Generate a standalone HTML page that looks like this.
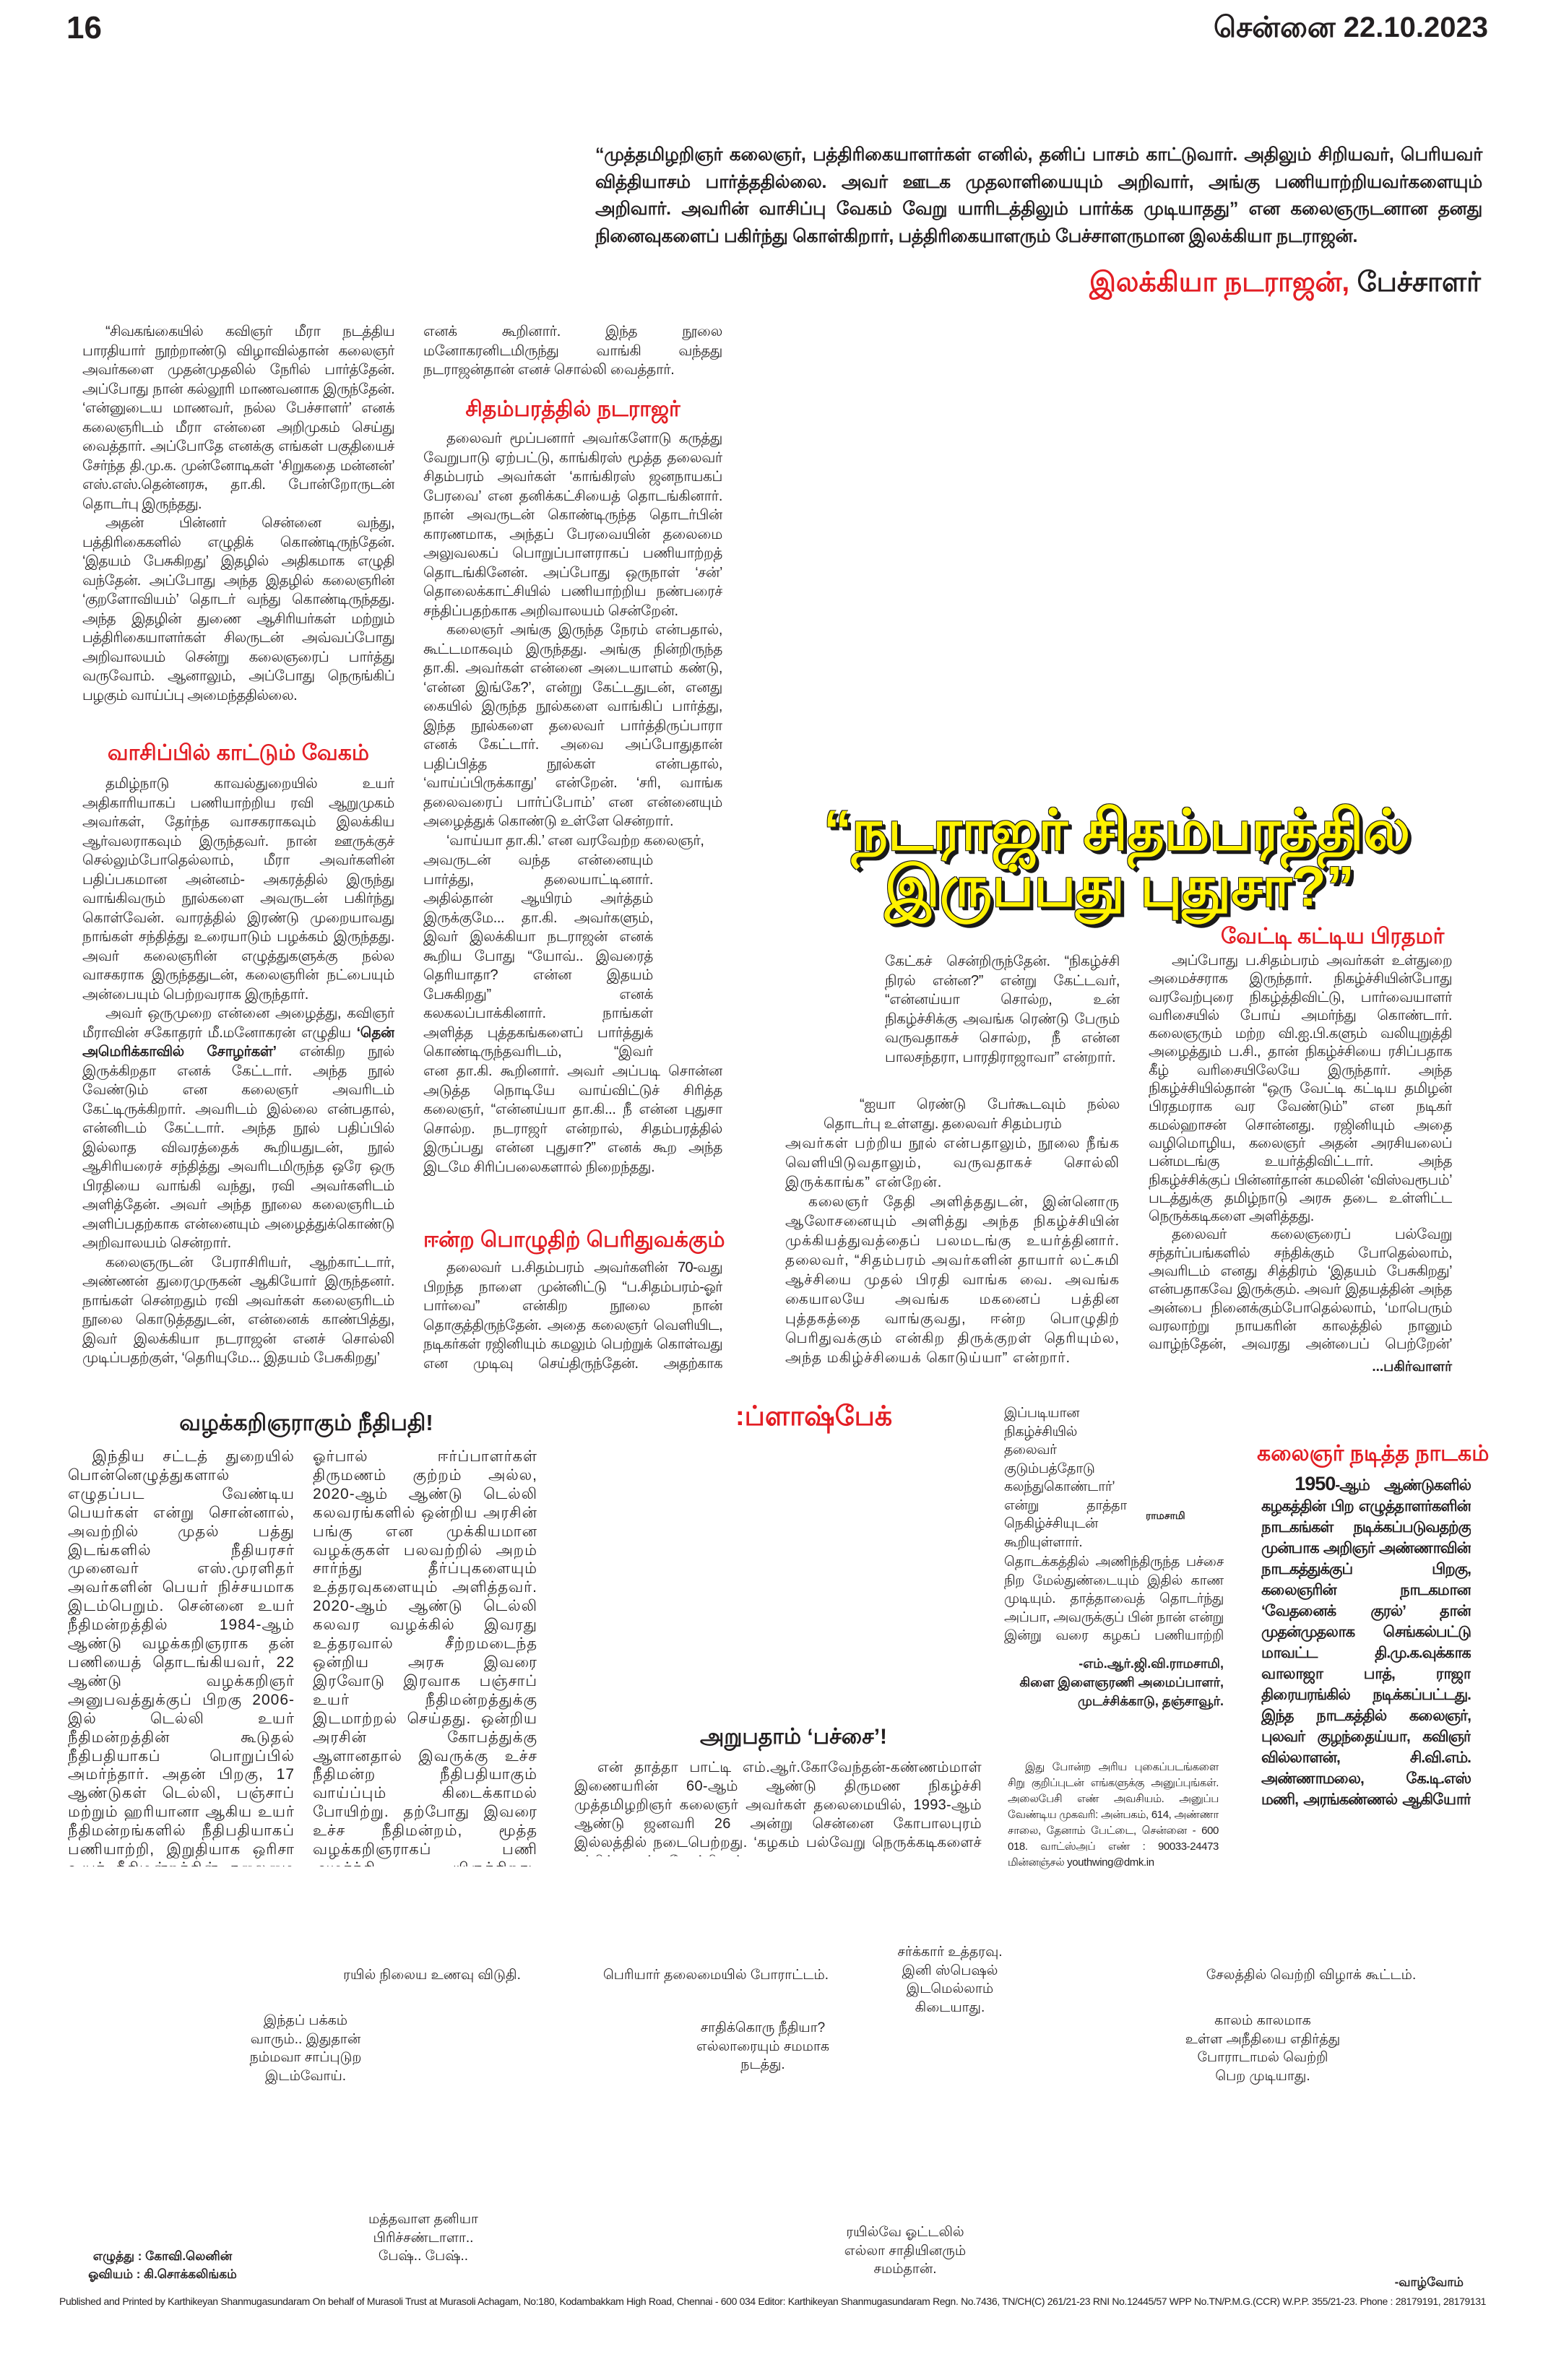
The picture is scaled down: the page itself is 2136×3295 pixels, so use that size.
<!DOCTYPE html>
<html><head><meta charset="utf-8"><style>
*{margin:0;padding:0;box-sizing:border-box}
html,body{width:2136px;height:3295px;background:#fff;overflow:hidden}
body{position:relative;font-family:"Liberation Sans","Noto Sans CJK SC",sans-serif;color:#231f20}
.a{position:absolute}
.t{position:absolute;font-size:20px;line-height:26.5px;text-align:justify;overflow:hidden;letter-spacing:-0.4px}
.t p{text-indent:1.6em}
.t p.n{text-indent:0}
.h{position:absolute;font-weight:bold;color:#e31e24;font-size:30px;white-space:nowrap;text-align:center}
.k{color:#231f20}
.c{position:absolute;font-size:19px;line-height:25.5px;text-align:center;white-space:nowrap}
.hl{position:absolute;font-weight:900;color:#fff200;font-size:78px;line-height:78px;white-space:nowrap;
text-shadow:4px 4px 0 #1a1a1a,5px 5px 0 #1a1a1a,-1px -1px 0 #1a1a1a,1px -1px 0 #1a1a1a,-1px 1px 0 #1a1a1a}
</style></head><body>

<div class="a" style="left:92px;top:14px;font-size:44px;font-weight:bold">16</div>
<div class="a" style="right:76px;top:16px;font-size:40px;font-weight:bold">சென்னை 22.10.2023</div>

<div class="a" style="left:824px;top:196px;width:1228px;font-size:25px;line-height:37.5px;font-weight:bold;text-align:justify;letter-spacing:-0.3px">“முத்தமிழறிஞர் கலைஞர், பத்திரிகையாளர்கள் எனில், தனிப் பாசம் காட்டுவார். அதிலும் சிறியவர், பெரியவர் வித்தியாசம் பார்த்ததில்லை. அவர் ஊடக முதலாளியையும் அறிவார், அங்கு பணியாற்றியவர்களையும் அறிவார். அவரின் வாசிப்பு வேகம் வேறு யாரிடத்திலும் பார்க்க முடியாதது” என கலைஞருடனான தனது நினைவுகளைப் பகிர்ந்து கொள்கிறார், பத்திரிகையாளரும் பேச்சாளருமான இலக்கியா நடராஜன்.</div>
<div class="a" style="right:86px;top:370px;font-size:38px;font-weight:bold;color:#e31e24;white-space:nowrap">இலக்கியா நடராஜன், <span class="k">பேச்சாளர்</span></div>

<!-- column 1 -->
<div class="t" style="left:114px;top:446px;width:432px;height:570px;letter-spacing:-0.7px">
<p>“சிவகங்கையில் கவிஞர் மீரா நடத்திய பாரதியார் நூற்றாண்டு விழாவில்தான் கலைஞர் அவர்களை முதன்முதலில் நேரில் பார்த்தேன். அப்போது நான் கல்லூரி மாணவனாக இருந்தேன். ‘என்னுடைய மாணவர், நல்ல பேச்சாளர்’ எனக் கலைஞரிடம் மீரா என்னை அறிமுகம் செய்து வைத்தார். அப்போதே எனக்கு எங்கள் பகுதியைச் சேர்ந்த தி.மு.க. முன்னோடிகள் ‘சிறுகதை மன்னன்’ எஸ்.எஸ்.தென்னரசு, தா.கி. போன்றோருடன் தொடர்பு இருந்தது.</p>
<p>அதன் பின்னர் சென்னை வந்து, பத்திரிகைகளில் எழுதிக் கொண்டிருந்தேன். ‘இதயம் பேசுகிறது’ இதழில் அதிகமாக எழுதி வந்தேன். அப்போது அந்த இதழில் கலைஞரின் ‘குறளோவியம்’ தொடர் வந்து கொண்டிருந்தது. அந்த இதழின் துணை ஆசிரியர்கள் மற்றும் பத்திரிகையாளர்கள் சிலருடன் அவ்வப்போது அறிவாலயம் சென்று கலைஞரைப் பார்த்து வருவோம். ஆனாலும், அப்போது நெருங்கிப் பழகும் வாய்ப்பு அமைந்ததில்லை.</p>
</div>
<div class="h" style="left:114px;width:432px;top:1026px">வாசிப்பில் காட்டும் வேகம்</div>
<div class="t" style="left:114px;top:1072px;width:432px;height:912px">
<p>தமிழ்நாடு காவல்துறையில் உயர் அதிகாரியாகப் பணியாற்றிய ரவி ஆறுமுகம் அவர்கள், தேர்ந்த வாசகராகவும் இலக்கிய ஆர்வலராகவும் இருந்தவர். நான் ஊருக்குச் செல்லும்போதெல்லாம், மீரா அவர்களின் பதிப்பகமான அன்னம்- அகரத்தில் இருந்து வாங்கிவரும் நூல்களை அவருடன் பகிர்ந்து கொள்வேன். வாரத்தில் இரண்டு முறையாவது நாங்கள் சந்தித்து உரையாடும் பழக்கம் இருந்தது. அவர் கலைஞரின் எழுத்துகளுக்கு நல்ல வாசகராக இருந்ததுடன், கலைஞரின் நட்பையும் அன்பையும் பெற்றவராக இருந்தார்.</p>
<p>அவர் ஒருமுறை என்னை அழைத்து, கவிஞர் மீராவின் சகோதரர் மீ.மனோகரன் எழுதிய <b>‘தென் அமெரிக்காவில் சோழர்கள்’</b> என்கிற நூல் இருக்கிறதா எனக் கேட்டார். அந்த நூல் வேண்டும் என கலைஞர் அவரிடம் கேட்டிருக்கிறார். அவரிடம் இல்லை என்பதால், என்னிடம் கேட்டார். அந்த நூல் பதிப்பில் இல்லாத விவரத்தைக் கூறியதுடன், நூல் ஆசிரியரைச் சந்தித்து அவரிடமிருந்த ஒரே ஒரு பிரதியை வாங்கி வந்து, ரவி அவர்களிடம் அளித்தேன். அவர் அந்த நூலை கலைஞரிடம் அளிப்பதற்காக என்னையும் அழைத்துக்கொண்டு அறிவாலயம் சென்றார்.</p>
<p>கலைஞருடன் பேராசிரியர், ஆற்காட்டார், அண்ணன் துரைமுருகன் ஆகியோர் இருந்தனர். நாங்கள் சென்றதும் ரவி அவர்கள் கலைஞரிடம் நூலை கொடுத்ததுடன், என்னைக் காண்பித்து, இவர் இலக்கியா நடராஜன் எனச் சொல்லி முடிப்பதற்குள், ‘தெரியுமே... இதயம் பேசுகிறது’</p>
</div>

<!-- column 2 -->
<div class="t" style="left:586px;top:446px;width:414px;height:82px">
<p class="n">எனக் கூறினார். இந்த நூலை மனோகரனிடமிருந்து வாங்கி வந்தது நடராஜன்தான் எனச் சொல்லி வைத்தார்.</p></div>
<div class="h" style="left:586px;width:414px;top:550px">சிதம்பரத்தில் நடராஜர்</div>
<div class="t" style="left:586px;top:594px;width:414px;height:584px">
<p>தலைவர் மூப்பனார் அவர்களோடு கருத்து வேறுபாடு ஏற்பட்டு, காங்கிரஸ் மூத்த தலைவர் சிதம்பரம் அவர்கள் ‘காங்கிரஸ் ஜனநாயகப் பேரவை’ என தனிக்கட்சியைத் தொடங்கினார். நான் அவருடன் கொண்டிருந்த தொடர்பின் காரணமாக, அந்தப் பேரவையின் தலைமை அலுவலகப் பொறுப்பாளராகப் பணியாற்றத் தொடங்கினேன். அப்போது ஒருநாள் ‘சன்’ தொலைக்காட்சியில் பணியாற்றிய நண்பரைச் சந்திப்பதற்காக அறிவாலயம் சென்றேன்.</p>
<p>கலைஞர் அங்கு இருந்த நேரம் என்பதால், கூட்டமாகவும் இருந்தது. அங்கு நின்றிருந்த தா.கி. அவர்கள் என்னை அடையாளம் கண்டு, ‘என்ன இங்கே?’, என்று கேட்டதுடன், எனது கையில் இருந்த நூல்களை வாங்கிப் பார்த்து, இந்த நூல்களை தலைவர் பார்த்திருப்பாரா எனக் கேட்டார். அவை அப்போதுதான் பதிப்பித்த நூல்கள் என்பதால், ‘வாய்ப்பிருக்காது’ என்றேன். ‘சரி, வாங்க தலைவரைப் பார்ப்போம்’ என என்னையும் அழைத்துக் கொண்டு உள்ளே சென்றார்.</p>
<p>‘வாய்யா தா.கி.’ என வரவேற்ற கலைஞர்,</p></div>
<div class="t" style="left:586px;top:1178px;width:318px;height:292px">
<p class="n">அவருடன் வந்த என்னையும் பார்த்து, தலையாட்டினார். அதில்தான் ஆயிரம் அர்த்தம் இருக்குமே... தா.கி. அவர்களும், இவர் இலக்கியா நடராஜன் எனக் கூறிய போது “யோவ்.. இவரைத் தெரியாதா? என்ன இதயம் பேசுகிறது” எனக் கலகலப்பாக்கினார். நாங்கள் அளித்த புத்தகங்களைப் பார்த்துக் கொண்டிருந்தவரிடம், “இவர் இப்போ பத்திரிகைப் பணிகளில் இல்லை, ப.சிதம்பரம்கிட்ட சேர்ந்துட்டாரு”</p></div>
<div class="t" style="left:586px;top:1470px;width:414px;height:215px">
<p class="n">என தா.கி. கூறினார். அவர் அப்படி சொன்ன அடுத்த நொடியே வாய்விட்டுச் சிரித்த கலைஞர், “என்னய்யா தா.கி... நீ என்ன புதுசா சொல்ற. நடராஜர் என்றால், சிதம்பரத்தில் இருப்பது என்ன புதுசா?” எனக் கூற அந்த இடமே சிரிப்பலைகளால் நிறைந்தது.</p></div>
<div class="h" style="left:586px;width:414px;top:1700px">ஈன்ற பொழுதிற் பெரிதுவக்கும்</div>
<div class="t" style="left:586px;top:1742px;width:414px;height:162px;letter-spacing:-0.7px">
<p>தலைவர் ப.சிதம்பரம் அவர்களின் 70-வது பிறந்த நாளை முன்னிட்டு “ப.சிதம்பரம்-ஓர் பார்வை” என்கிற நூலை நான் தொகுத்திருந்தேன். அதை கலைஞர் வெளியிட, நடிகர்கள் ரஜினியும் கமலும் பெற்றுக் கொள்வது என முடிவு செய்திருந்தேன். அதற்காக கலைஞரிடம் தேதி</p></div>

<!-- headline -->
<div class="hl" style="left:1140px;top:1110px">“நடராஜர் சிதம்பரத்தில்</div>
<div class="hl" style="left:1225px;top:1188px">இருப்பது புதுசா?”</div>
<div class="h" style="left:1690px;width:265px;top:1280px">வேட்டி கட்டிய பிரதமர்</div>

<!-- column 3 -->
<div class="t" style="left:1225px;top:1318px;width:325px;height:192px">
<p class="n">கேட்கச் சென்றிருந்தேன். “நிகழ்ச்சி நிரல் என்ன?” என்று கேட்டவர், “என்னய்யா சொல்ற, உன் நிகழ்ச்சிக்கு அவங்க ரெண்டு பேரும் வருவதாகச் சொல்ற, நீ என்ன பாலசந்தரா, பாரதிராஜாவா” என்றார்.</p></div>
<div class="t" style="left:1140px;top:1516px;width:410px;height:56px;line-height:27px">
<p class="n" style="text-indent:2.5em">“ஐயா ரெண்டு பேர்கூடவும் நல்ல தொடர்பு உள்ளது. தலைவர் சிதம்பரம்</p></div>
<div class="t" style="left:1087px;top:1570px;width:463px;height:334px;line-height:27px;letter-spacing:1px">
<p class="n">அவர்கள் பற்றிய நூல் என்பதாலும், நூலை நீங்க வெளியிடுவதாலும், வருவதாகச் சொல்லி இருக்காங்க” என்றேன்.</p>
<p>கலைஞர் தேதி அளித்ததுடன், இன்னொரு ஆலோசனையும் அளித்து அந்த நிகழ்ச்சியின் முக்கியத்துவத்தைப் பலமடங்கு உயர்த்தினார். தலைவர், “சிதம்பரம் அவர்களின் தாயார் லட்சுமி ஆச்சியை முதல் பிரதி வாங்க வை. அவங்க கையாலயே அவங்க மகனைப் பத்தின புத்தகத்தை வாங்குவது, ஈன்ற பொழுதிற் பெரிதுவக்கும் என்கிற திருக்குறள் தெரியும்ல, அந்த மகிழ்ச்சியைக் கொடுய்யா” என்றார்.</p></div>

<!-- column 4 -->
<div class="t" style="left:1590px;top:1318px;width:420px;height:558px;line-height:25.3px;letter-spacing:-0.6px">
<p>அப்போது ப.சிதம்பரம் அவர்கள் உள்துறை அமைச்சராக இருந்தார். நிகழ்ச்சியின்போது வரவேற்புரை நிகழ்த்திவிட்டு, பார்வையாளர் வரிசையில் போய் அமர்ந்து கொண்டார். கலைஞரும் மற்ற வி.ஐ.பி.களும் வலியுறுத்தி அழைத்தும் ப.சி., தான் நிகழ்ச்சியை ரசிப்பதாக கீழ் வரிசையிலேயே இருந்தார். அந்த நிகழ்ச்சியில்தான் “ஒரு வேட்டி கட்டிய தமிழன் பிரதமராக வர வேண்டும்” என நடிகர் கமல்ஹாசன் சொன்னது. ரஜினியும் அதை வழிமொழிய, கலைஞர் அதன் அரசியலைப் பன்மடங்கு உயர்த்திவிட்டார். அந்த நிகழ்ச்சிக்குப் பின்னர்தான் கமலின் ‘விஸ்வரூபம்’ படத்துக்கு தமிழ்நாடு அரசு தடை உள்ளிட்ட நெருக்கடிகளை அளித்தது.</p>
<p>தலைவர் கலைஞரைப் பல்வேறு சந்தர்ப்பங்களில் சந்திக்கும் போதெல்லாம், அவரிடம் எனது சித்திரம் ‘இதயம் பேசுகிறது’ என்பதாகவே இருக்கும். அவர் இதயத்தின் அந்த அன்பை நினைக்கும்போதெல்லாம், ‘மாபெரும் வரலாற்று நாயகரின் காலத்தில் நானும் வாழ்ந்தேன், அவரது அன்பைப் பெற்றேன்’ என்பதே எனக்குப் பெருமை அளிக்கிறது.”</p></div>
<div class="a" style="right:126px;top:1882px;font-size:19px;font-weight:bold">...பகிர்வாளர்</div>

<!-- bottom left -->
<div class="a" style="left:222px;width:404px;top:1952px;font-size:31px;font-weight:bold;white-space:nowrap;text-align:center">வழக்கறிஞராகும் நீதிபதி!</div>
<div class="t" style="left:94px;top:2004px;width:314px;height:580px;line-height:25.9px;font-size:21px;letter-spacing:1px">
<p>இந்திய சட்டத் துறையில் பொன்னெழுத்துகளால் எழுதப்பட வேண்டிய பெயர்கள் என்று சொன்னால், அவற்றில் முதல் பத்து இடங்களில் நீதியரசர் முனைவர் எஸ்.முரளிதர் அவர்களின் பெயர் நிச்சயமாக இடம்பெறும். சென்னை உயர் நீதிமன்றத்தில் 1984-ஆம் ஆண்டு வழக்கறிஞராக தன் பணியைத் தொடங்கியவர், 22 ஆண்டு வழக்கறிஞர் அனுபவத்துக்குப் பிறகு 2006-இல் டெல்லி உயர் நீதிமன்றத்தின் கூடுதல் நீதிபதியாகப் பொறுப்பில் அமர்ந்தார். அதன் பிறகு, 17 ஆண்டுகள் டெல்லி, பஞ்சாப் மற்றும் ஹரியானா ஆகிய உயர் நீதிமன்றங்களில் நீதிபதியாகப் பணியாற்றி, இறுதியாக ஒரிசா உயர் நீதிமன்றத்தின் தலைமை நீதிபதியாகப் பொறுப்பு வகித்து, இந்த ஆண்டு ஆகஸ்ட் மாதம் பணி ஓய்வுபெற்றார்.</p>
<p>நீதிபதியாக இருந்த காலத்தில்,</p></div>
<div class="t" style="left:433px;top:2004px;width:311px;height:580px;line-height:25.9px;font-size:21px;letter-spacing:1px">
<p class="n">ஓர்பால் ஈர்ப்பாளர்கள் திருமணம் குற்றம் அல்ல, 2020-ஆம் ஆண்டு டெல்லி கலவரங்களில் ஒன்றிய அரசின் பங்கு என முக்கியமான வழக்குகள் பலவற்றில் அறம் சார்ந்து தீர்ப்புகளையும் உத்தரவுகளையும் அளித்தவர். 2020-ஆம் ஆண்டு டெல்லி கலவர வழக்கில் இவரது உத்தரவால் சீற்றமடைந்த ஒன்றிய அரசு இவரை இரவோடு இரவாக பஞ்சாப் உயர் நீதிமன்றத்துக்கு இடமாற்றல் செய்தது. ஒன்றிய அரசின் கோபத்துக்கு ஆளானதால் இவருக்கு உச்ச நீதிமன்ற நீதிபதியாகும் வாய்ப்பும் கிடைக்காமல் போயிற்று. தற்போது இவரை உச்ச நீதிமன்றம், மூத்த வழக்கறிஞராகப் பணி அமர்த்தி யிருக்கிறது. நீதிபதியாக இருந்து பல நல்ல தீர்ப்புகளை வழங்கியவர், மீண்டும் வழக்கறிஞராக வருவதால், மேலும் பலருக்கு நீதி கிடைக்கும் என்று நம்பலாம்!</p></div>

<!-- flashback -->
<div class="a" style="left:1018px;top:1940px;font-size:38px;font-weight:bold;color:#e31e24;white-space:nowrap">:ப்ளாஷ்பேக்</div>
<div class="t" style="left:1390px;top:1944px;width:170px;height:206px;font-size:19px;line-height:25.5px">
<p class="n">இப்படியான நிகழ்ச்சியில் தலைவர் குடும்பத்தோடு கலந்துகொண்டார்’ என்று தாத்தா நெகிழ்ச்சியுடன் கூறியுள்ளார். மேலும் கலைஞர் 90 களின்</p></div>
<div class="t" style="left:1390px;top:2150px;width:304px;height:130px;font-size:19px;line-height:25.5px">
<p class="n">தொடக்கத்தில் அணிந்திருந்த பச்சை நிற மேல்துண்டையும் இதில் காண முடியும். தாத்தாவைத் தொடர்ந்து அப்பா, அவருக்குப் பின் நான் என்று இன்று வரை கழகப் பணியாற்றி வருகிறோம்.</p></div>
<div class="a" style="left:1586px;top:2090px;font-size:14px;font-weight:bold">ராமசாமி</div>
<div class="a" style="left:1300px;width:394px;top:2290px;font-size:18px;font-weight:bold;line-height:26px;text-align:right">-எம்.ஆர்.ஜி.வி.ராமசாமி,<br>கிளை இளைஞரணி அமைப்பாளர்,<br>முடச்சிக்காடு, தஞ்சாவூர்.</div>

<div class="a" style="left:969px;top:2388px;font-size:30px;font-weight:bold;white-space:nowrap">அறுபதாம் ‘பச்சை’!</div>
<div class="t" style="left:795px;top:2434px;width:564px;height:136px;line-height:26px;letter-spacing:0.3px">
<p>என் தாத்தா பாட்டி எம்.ஆர்.கோவேந்தன்-கண்ணம்மாள் இணையரின் 60-ஆம் ஆண்டு திருமண நிகழ்ச்சி முத்தமிழறிஞர் கலைஞர் அவர்கள் தலைமையில், 1993-ஆம் ஆண்டு ஜனவரி 26 அன்று சென்னை கோபாலபுரம் இல்லத்தில் நடைபெற்றது. ‘கழகம் பல்வேறு நெருக்கடிகளைச் சந்தித்து வந்த நேரத்திலும்</p></div>
<div class="t" style="left:1395px;top:2436px;width:292px;height:160px;font-size:15px;line-height:22px">
<p>இது போன்ற அரிய புகைப்படங்களை சிறு குறிப்புடன் எங்களுக்கு அனுப்புங்கள். அலைபேசி எண் அவசியம். அனுப்ப வேண்டிய முகவரி: அன்பகம், 614, அண்ணா சாலை, தேனாம் பேட்டை, சென்னை - 600 018. வாட்ஸ்அப் எண் : 90033-24473 மின்னஞ்சல் youthwing@dmk.in</p></div>

<!-- right bottom -->
<div class="h" style="left:1740px;width:300px;top:1996px">கலைஞர் நடித்த நாடகம்</div>
<div class="t" style="left:1746px;top:2040px;width:290px;height:470px;font-size:21px;line-height:29px;font-weight:bold;letter-spacing:-1px">
<p style="text-indent:2.2em"><span style="font-size:27px">1950</span>-ஆம் ஆண்டுகளில் கழகத்தின் பிற எழுத்தாளர்களின் நாடகங்கள் நடிக்கப்படுவதற்கு முன்பாக அறிஞர் அண்ணாவின் நாடகத்துக்குப் பிறகு, கலைஞரின் நாடகமான ‘வேதனைக் குரல்’ தான் முதன்முதலாக செங்கல்பட்டு மாவட்ட தி.மு.க.வுக்காக வாலாஜா பாத், ராஜா திரையரங்கில் நடிக்கப்பட்டது. இந்த நாடகத்தில் கலைஞர், புலவர் குழந்தைய்யா, கவிஞர் வில்லாளன், சி.வி.எம். அண்ணாமலை, கே.டி.எஸ் மணி, அரங்கண்ணல் ஆகியோர் நடித்தனர்.</p></div>

<!-- captions -->
<div class="c" style="left:463px;width:270px;top:2722px">ரயில் நிலைய உணவு விடுதி.</div>
<div class="c" style="left:830px;width:322px;top:2722px">பெரியார் தலைமையில் போராட்டம்.</div>
<div class="c" style="left:1215px;width:200px;top:2690px">சர்க்கார் உத்தரவு.<br>இனி ஸ்பெஷல்<br>இடமெல்லாம்<br>கிடையாது.</div>
<div class="c" style="left:1650px;width:330px;top:2722px">சேலத்தில் வெற்றி விழாக் கூட்டம்.</div>
<div class="c" style="left:323px;width:200px;top:2785px">இந்தப் பக்கம்<br>வாரும்.. இதுதான்<br>நம்மவா சாப்புடுற<br>இடம்வோய்.</div>
<div class="c" style="left:956px;width:200px;top:2795px">சாதிக்கொரு நீதியா?<br>எல்லாரையும் சமமாக<br>நடத்து.</div>
<div class="c" style="left:1628px;width:240px;top:2785px">காலம் காலமாக<br>உள்ள அநீதியை எதிர்த்து<br>போராடாமல் வெற்றி<br>பெற முடியாது.</div>
<div class="c" style="left:486px;width:200px;top:3060px">மத்தவாள தனியா<br>பிரிச்சண்டாளா..<br>பேஷ்.. பேஷ்..</div>
<div class="c" style="left:1153px;width:200px;top:3078px">ரயில்வே ஓட்டலில்<br>எல்லா சாதியினரும்<br>சமம்தான்.</div>
<div class="c" style="left:105px;width:240px;top:3112px;font-size:17px;font-weight:bold;line-height:24.5px">எழுத்து : கோவி.லெனின்<br>ஓவியம் : கி.சொக்கலிங்கம்</div>
<div class="a" style="right:110px;top:3150px;font-size:17px;font-weight:bold">-வாழ்வோம்</div>
<div class="a" style="left:82px;width:1975px;top:3178px;font-size:14px;line-height:16px;text-align:justify;text-align-last:justify;white-space:nowrap;overflow:hidden;letter-spacing:-0.4px">Published and Printed by Karthikeyan Shanmugasundaram On behalf of Murasoli Trust at Murasoli Achagam, No:180, Kodambakkam High Road, Chennai - 600 034 Editor: Karthikeyan Shanmugasundaram Regn. No.7436, TN/CH(C) 261/21-23 RNI No.12445/57 WPP No.TN/P.M.G.(CCR) W.P.P. 355/21-23. Phone : 28179191, 28179131</div>
</body></html>
